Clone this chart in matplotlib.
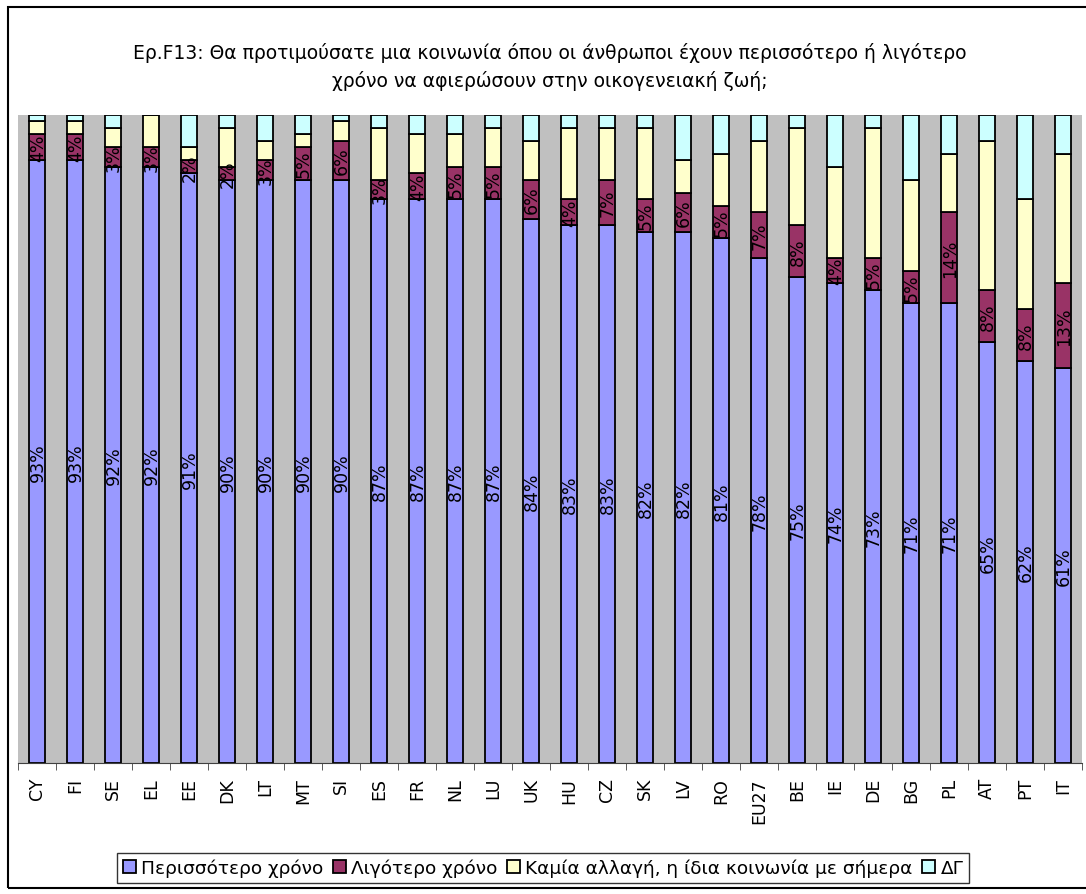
import matplotlib
matplotlib.use("Agg")
import matplotlib.pyplot as plt
import numpy as np
from matplotlib.patches import Rectangle

# ================================
# Δεδομένα (ποσοστά ανά χώρα)
countries = ["CY", "FI", "SE", "EL", "EE", "DK", "LT", "MT", "SI", "ES",
             "FR", "NL", "LU", "UK", "HU", "CZ", "SK", "LV", "RO", "EU27",
             "BE", "IE", "DE", "BG", "PL", "AT", "PT", "IT"]
more_time = [93, 93, 92, 92, 91, 90, 90, 90, 90, 87,
             87, 87, 87, 84, 83, 83, 82, 82, 81, 78,
             75, 74, 73, 71, 71, 65, 62, 61]
less_time = [4, 4, 3, 3, 2, 2, 3, 5, 6, 3,
             4, 5, 5, 6, 4, 7, 5, 6, 5, 7,
             8, 4, 5, 5, 14, 8, 8, 13]
no_change = [2, 2, 3, 5, 2, 6, 3, 2, 3, 8,
             6, 5, 6, 6, 11, 8, 11, 5, 8, 11,
             15, 14, 20, 14, 9, 23, 17, 20]
dont_know = [1, 1, 2, 0, 5, 2, 4, 3, 1, 2,
             3, 3, 2, 4, 2, 2, 2, 7, 6, 4,
             2, 8, 2, 10, 6, 4, 13, 6]

series_names = ["Περισσότερο χρόνο", "Λιγότερο χρόνο",
                "Καμία αλλαγή, η ίδια κοινωνία με σήμερα", "ΔΓ"]
colors = ["#9999FF", "#993366", "#FFFFCC", "#CCFFFF"]

title = ("Ερ.F13: Θα προτιμούσατε μια κοινωνία όπου οι άνθρωποι έχουν περισσότερο ή λιγότερο\n"
         "χρόνο να αφιερώσουν στην οικογενειακή ζωή;")

# ================================
W, H = 1086, 895
fig = plt.figure(figsize=(W / 100, H / 100), dpi=100)
plt.rcParams['font.family'] = ['DejaVu Sans']

# plot area in pixels: x 18..1082, y 116..764
ax = fig.add_axes([18 / W, 1 - 764 / H, (1082 - 18) / W, (764 - 116) / H])
ax.set_facecolor("#C0C0C0")

x = np.arange(len(countries))
data = [more_time, less_time, no_change, dont_know]
bottom = np.zeros(len(countries))
bars = []
for vals, col, name in zip(data, colors, series_names):
    b = ax.bar(x, vals, width=0.42, bottom=bottom, color=col,
               edgecolor="black", linewidth=1.3, label=name)
    bars.append(b)
    bottom = bottom + np.array(vals)

# labels inside the first two series
for k in range(2):
    vals = data[k]
    base = np.zeros(len(countries)) if k == 0 else np.array(more_time)
    for i, v in enumerate(vals):
        ax.text(x[i] + 0.02, base[i] + v / 2, f"{v}%", rotation=90,
                ha="center", va="center", fontsize=12.5, color="black")

ax.set_xlim(-0.5, len(countries) - 0.5)
ax.set_ylim(0, 100)
ax.set_yticks([])
ax.set_xticks(np.arange(len(countries) + 1) - 0.5, minor=True)
ax.set_xticks(x)
ax.set_xticklabels(countries, rotation=90, fontsize=12.5)
ax.tick_params(axis="x", which="major", length=0, pad=10)
ax.tick_params(axis="x", which="minor", length=5, color="#404040")
for s in ["left", "right", "top"]:
    ax.spines[s].set_visible(False)
ax.spines["bottom"].set_color("#404040")

fig.text(550 / W, 1 - 67 / H, title, ha="center", va="center",
         fontsize=13.5, linespacing=1.45)

leg = fig.legend(handles=bars, labels=series_names, loc="center",
                 bbox_to_anchor=(543 / W, 1 - 869 / H), ncol=4,
                 fontsize=13.3, frameon=True, fancybox=False,
                 handlelength=0.7, handleheight=0.7, handletextpad=0.3,
                 columnspacing=0.5, borderpad=0.3, edgecolor="black")
leg.get_frame().set_linewidth(1.0)

# figure outline
fig.patches.append(Rectangle((8 / W, 1 - 889 / H), 1.2, (889 - 8) / H,
                             transform=fig.transFigure, fill=False,
                             edgecolor="black", linewidth=1.5))

fig.savefig("out.png", dpi=100)
